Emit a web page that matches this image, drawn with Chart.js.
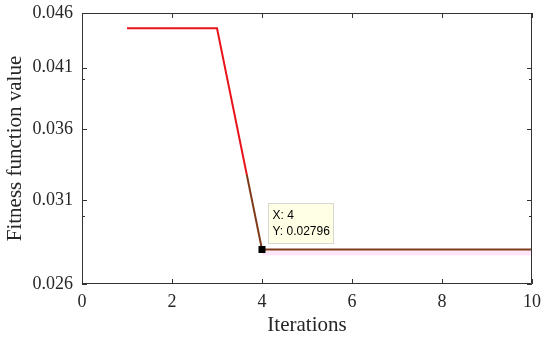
<!DOCTYPE html>
<html>
<head>
<meta charset="utf-8">
<script src="https://cdn.jsdelivr.net/npm/chart.js@4"></script>
<style>
  html, body { margin: 0; padding: 0; background: #fff; }
  #wrap { width: 550px; height: 338px; }
</style>
</head>
<body>
<div id="wrap"><canvas id="fitness-chart"></canvas></div>
<script>
// iterations and best fitness per iteration
const iterations = [1, 2, 3, 4, 5, 6, 7, 8, 9, 10];
const fitness = [0.04454, 0.04454, 0.04454, 0.02796, 0.02796, 0.02796, 0.02796, 0.02796, 0.02796, 0.02796];
const xTicks = [0, 2, 4, 6, 8, 10];
const yTicks = [0.026, 0.031, 0.036, 0.041, 0.046];
const yMinorTicks = [0.03, 0.04];
const tipIndex = 3;

const serif = "'Liberation Serif', 'Times New Roman', serif";
const axisColor = '#333333';

// red line, brownish once it gets near the datatip (like the matlab figure)
function lineColor(context) {
  const chart = context.chart;
  const area = chart.chartArea;
  if (!area) return '#e8141a';
  const yScale = chart.scales.y;
  const split = (yScale.getPixelForValue(0.0327) - area.top) / (area.bottom - area.top);
  const g = chart.ctx.createLinearGradient(0, area.top, 0, area.bottom);
  g.addColorStop(0, '#e8141a');
  g.addColorStop(split, '#e8141a');
  g.addColorStop(Math.min(split + 0.001, 1), '#7f3a1c');
  g.addColorStop(1, '#7f3a1c');
  return g;
}

const matlabBox = {
  id: 'matlabBox',
  beforeDatasetsDraw(chart) {
    const ctx = chart.ctx;
    const meta = chart.getDatasetMeta(0);
    const a = meta.data[tipIndex];
    const last = meta.data[meta.data.length - 1];
    // faint pink shadow under the flat part
    ctx.save();
    ctx.fillStyle = 'rgba(255, 200, 240, 0.45)';
    ctx.fillRect(a.x, a.y + 1, last.x - a.x, 5);
    ctx.restore();
  },
  afterDatasetsDraw(chart) {
    const ctx = chart.ctx;
    const area = chart.chartArea;
    const xs = chart.scales.x;
    const ys = chart.scales.y;
    ctx.save();
    ctx.strokeStyle = axisColor;
    ctx.lineWidth = 1;
    ctx.beginPath();
    ctx.rect(area.left + 0.5, area.top + 0.5, area.right - area.left - 1, area.bottom - area.top - 1);
    ctx.stroke();
    ctx.beginPath();
    xTicks.forEach(v => {
      const px = Math.round(xs.getPixelForValue(v)) + 0.5;
      ctx.moveTo(px, area.bottom);
      ctx.lineTo(px, area.bottom - 5);
      ctx.moveTo(px, area.top);
      ctx.lineTo(px, area.top + 5);
    });
    yTicks.forEach(v => {
      const py = Math.round(ys.getPixelForValue(v)) + 0.5;
      ctx.moveTo(area.left, py);
      ctx.lineTo(area.left + 5, py);
      ctx.moveTo(area.right, py);
      ctx.lineTo(area.right - 5, py);
    });
    yMinorTicks.forEach(v => {
      const py = Math.round(ys.getPixelForValue(v)) + 0.5;
      ctx.moveTo(area.left, py);
      ctx.lineTo(area.left + 3, py);
      ctx.moveTo(area.right, py);
      ctx.lineTo(area.right - 3, py);
    });
    ctx.stroke();

    // datatip
    const p = chart.getDatasetMeta(0).data[tipIndex];
    ctx.fillStyle = '#000';
    ctx.fillRect(p.x - 3.5, p.y - 3.5, 7, 7);
    const bx = Math.round(p.x) + 6.5, by = Math.round(p.y) - 45.5;
    ctx.fillStyle = '#ffffe6';
    ctx.strokeStyle = '#d8d8d0';
    ctx.fillRect(bx, by, 65, 40);
    ctx.strokeRect(bx, by, 65, 40);
    ctx.fillStyle = '#000';
    ctx.font = "12px 'Liberation Sans', Arial, sans-serif";
    ctx.textBaseline = 'middle';
    ctx.textAlign = 'left';
    ctx.fillText('X: ' + iterations[tipIndex], bx + 4, by + 12);
    ctx.fillText('Y: ' + fitness[tipIndex], bx + 4, by + 28.5);
    ctx.restore();
  }
};

new Chart(document.getElementById('fitness-chart'), {
  type: 'line',
  data: {
    datasets: [{
      data: iterations.map((x, i) => ({ x: x, y: fitness[i] })),
      borderColor: lineColor,
      borderWidth: 2,
      pointRadius: 0,
      tension: 0,
      fill: false
    }]
  },
  options: {
    responsive: true,
    maintainAspectRatio: false,
    animation: false,
    layout: { padding: { top: 13, right: 18, left: 0, bottom: 0 } },
    plugins: {
      legend: { display: false },
      tooltip: { enabled: false }
    },
    scales: {
      x: {
        type: 'linear',
        min: 0,
        max: 10,
        afterBuildTicks: axis => { axis.ticks = xTicks.map(v => ({ value: v })); },
        afterFit: axis => { axis.height = 54; axis.paddingLeft = 0; axis.paddingRight = 0; },
        grid: { display: false, drawTicks: false },
        border: { display: false },
        ticks: {
          padding: 7,
          color: '#262626',
          maxRotation: 0,
          font: { family: serif, size: 18 }
        },
        title: {
          display: true,
          text: 'Iterations',
          color: '#262626',
          padding: { top: 0, bottom: 0 },
          font: { family: serif, size: 21 }
        }
      },
      y: {
        type: 'logarithmic',
        min: 0.026,
        max: 0.046,
        afterBuildTicks: axis => { axis.ticks = yTicks.map(v => ({ value: v })); },
        afterFit: axis => { axis.width = 82; axis.paddingTop = 0; axis.paddingBottom = 0; },
        grid: { display: false, drawTicks: false },
        border: { display: false },
        ticks: {
          padding: 9,
          color: '#262626',
          font: { family: serif, size: 18 },
          callback: v => v.toFixed(3)
        },
        title: {
          display: true,
          text: 'Fitness function value',
          color: '#262626',
          padding: { top: 3, bottom: 0 },
          font: { family: serif, size: 21 }
        }
      }
    }
  },
  plugins: [matlabBox]
});
</script>
</body>
</html>
